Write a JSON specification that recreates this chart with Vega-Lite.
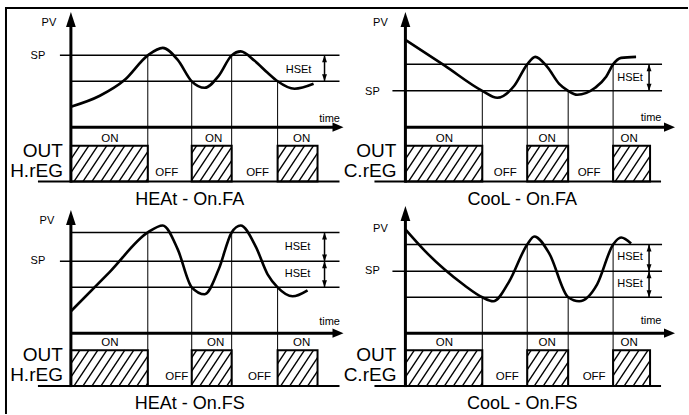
{
"$schema": "https://vega.github.io/schema/vega-lite/v6.json",
"width": 689, "height": 415,
"autosize": {"type": "fit", "contains": "padding"},
"padding": 0,
"background": "white",
"config": {"view": {"stroke": null}},
"datasets": {
"frame": [{"x":6,"y":8,"x2":6,"y2":415},{"x":5,"y":8,"x2":689,"y2":8}],
"hatch": [
{"x":47,"x2":71,"y":182,"y2":146},{"x":56,"x2":80,"y":182,"y2":146},{"x":65,"x2":89,"y":182,"y2":146},{"x":74,"x2":98,"y":182,"y2":146},{"x":83,"x2":107,"y":182,"y2":146},{"x":92,"x2":116,"y":182,"y2":146},{"x":101,"x2":125,"y":182,"y2":146},{"x":110,"x2":134,"y":182,"y2":146},{"x":119,"x2":143,"y":182,"y2":146},{"x":128,"x2":152,"y":182,"y2":146},{"x":137,"x2":161,"y":182,"y2":146},{"x":146,"x2":170,"y":182,"y2":146},{"x":155,"x2":179,"y":182,"y2":146},{"x":164,"x2":188,"y":182,"y2":146},{"x":173,"x2":197,"y":182,"y2":146},{"x":182,"x2":206,"y":182,"y2":146},{"x":191,"x2":215,"y":182,"y2":146},{"x":200,"x2":224,"y":182,"y2":146},{"x":209,"x2":233,"y":182,"y2":146},{"x":218,"x2":242,"y":182,"y2":146},{"x":227,"x2":251,"y":182,"y2":146},{"x":236,"x2":260,"y":182,"y2":146},{"x":245,"x2":269,"y":182,"y2":146},{"x":254,"x2":278,"y":182,"y2":146},{"x":263,"x2":287,"y":182,"y2":146},{"x":272,"x2":296,"y":182,"y2":146},{"x":281,"x2":305,"y":182,"y2":146},{"x":290,"x2":314,"y":182,"y2":146},{"x":299,"x2":323,"y":182,"y2":146},{"x":308,"x2":332,"y":182,"y2":146},{"x":317,"x2":341,"y":182,"y2":146},
{"x":47,"x2":71,"y":387,"y2":351},{"x":56,"x2":80,"y":387,"y2":351},{"x":65,"x2":89,"y":387,"y2":351},{"x":74,"x2":98,"y":387,"y2":351},{"x":83,"x2":107,"y":387,"y2":351},{"x":92,"x2":116,"y":387,"y2":351},{"x":101,"x2":125,"y":387,"y2":351},{"x":110,"x2":134,"y":387,"y2":351},{"x":119,"x2":143,"y":387,"y2":351},{"x":128,"x2":152,"y":387,"y2":351},{"x":137,"x2":161,"y":387,"y2":351},{"x":146,"x2":170,"y":387,"y2":351},{"x":155,"x2":179,"y":387,"y2":351},{"x":164,"x2":188,"y":387,"y2":351},{"x":173,"x2":197,"y":387,"y2":351},{"x":182,"x2":206,"y":387,"y2":351},{"x":191,"x2":215,"y":387,"y2":351},{"x":200,"x2":224,"y":387,"y2":351},{"x":209,"x2":233,"y":387,"y2":351},{"x":218,"x2":242,"y":387,"y2":351},{"x":227,"x2":251,"y":387,"y2":351},{"x":236,"x2":260,"y":387,"y2":351},{"x":245,"x2":269,"y":387,"y2":351},{"x":254,"x2":278,"y":387,"y2":351},{"x":263,"x2":287,"y":387,"y2":351},{"x":272,"x2":296,"y":387,"y2":351},{"x":281,"x2":305,"y":387,"y2":351},{"x":290,"x2":314,"y":387,"y2":351},{"x":299,"x2":323,"y":387,"y2":351},{"x":308,"x2":332,"y":387,"y2":351},{"x":317,"x2":341,"y":387,"y2":351},
{"x":382,"x2":406,"y":182,"y2":146},{"x":391,"x2":415,"y":182,"y2":146},{"x":400,"x2":424,"y":182,"y2":146},{"x":409,"x2":433,"y":182,"y2":146},{"x":418,"x2":442,"y":182,"y2":146},{"x":427,"x2":451,"y":182,"y2":146},{"x":436,"x2":460,"y":182,"y2":146},{"x":445,"x2":469,"y":182,"y2":146},{"x":454,"x2":478,"y":182,"y2":146},{"x":463,"x2":487,"y":182,"y2":146},{"x":472,"x2":496,"y":182,"y2":146},{"x":481,"x2":505,"y":182,"y2":146},{"x":490,"x2":514,"y":182,"y2":146},{"x":499,"x2":523,"y":182,"y2":146},{"x":508,"x2":532,"y":182,"y2":146},{"x":517,"x2":541,"y":182,"y2":146},{"x":526,"x2":550,"y":182,"y2":146},{"x":535,"x2":559,"y":182,"y2":146},{"x":544,"x2":568,"y":182,"y2":146},{"x":553,"x2":577,"y":182,"y2":146},{"x":562,"x2":586,"y":182,"y2":146},{"x":571,"x2":595,"y":182,"y2":146},{"x":580,"x2":604,"y":182,"y2":146},{"x":589,"x2":613,"y":182,"y2":146},{"x":598,"x2":622,"y":182,"y2":146},{"x":607,"x2":631,"y":182,"y2":146},{"x":616,"x2":640,"y":182,"y2":146},{"x":625,"x2":649,"y":182,"y2":146},{"x":634,"x2":658,"y":182,"y2":146},{"x":643,"x2":667,"y":182,"y2":146},{"x":652,"x2":676,"y":182,"y2":146},
{"x":382,"x2":406,"y":387,"y2":351},{"x":391,"x2":415,"y":387,"y2":351},{"x":400,"x2":424,"y":387,"y2":351},{"x":409,"x2":433,"y":387,"y2":351},{"x":418,"x2":442,"y":387,"y2":351},{"x":427,"x2":451,"y":387,"y2":351},{"x":436,"x2":460,"y":387,"y2":351},{"x":445,"x2":469,"y":387,"y2":351},{"x":454,"x2":478,"y":387,"y2":351},{"x":463,"x2":487,"y":387,"y2":351},{"x":472,"x2":496,"y":387,"y2":351},{"x":481,"x2":505,"y":387,"y2":351},{"x":490,"x2":514,"y":387,"y2":351},{"x":499,"x2":523,"y":387,"y2":351},{"x":508,"x2":532,"y":387,"y2":351},{"x":517,"x2":541,"y":387,"y2":351},{"x":526,"x2":550,"y":387,"y2":351},{"x":535,"x2":559,"y":387,"y2":351},{"x":544,"x2":568,"y":387,"y2":351},{"x":553,"x2":577,"y":387,"y2":351},{"x":562,"x2":586,"y":387,"y2":351},{"x":571,"x2":595,"y":387,"y2":351},{"x":580,"x2":604,"y":387,"y2":351},{"x":589,"x2":613,"y":387,"y2":351},{"x":598,"x2":622,"y":387,"y2":351},{"x":607,"x2":631,"y":387,"y2":351},{"x":616,"x2":640,"y":387,"y2":351},{"x":625,"x2":649,"y":387,"y2":351},{"x":634,"x2":658,"y":387,"y2":351},{"x":643,"x2":667,"y":387,"y2":351},{"x":652,"x2":676,"y":387,"y2":351}
],
"cover": [
{"x":36,"x2":71,"y":144,"y2":184},{"x":148,"x2":192,"y":144,"y2":184},{"x":232,"x2":278,"y":144,"y2":184},{"x":318,"x2":346,"y":144,"y2":184},{"x":368,"x2":406,"y":144,"y2":184},{"x":483,"x2":528,"y":144,"y2":184},{"x":569,"x2":614,"y":144,"y2":184},{"x":651,"x2":689,"y":144,"y2":184},
{"x":36,"x2":71,"y":349,"y2":389},{"x":148,"x2":192,"y":349,"y2":389},{"x":232,"x2":278,"y":349,"y2":389},{"x":318,"x2":346,"y":349,"y2":389},{"x":368,"x2":406,"y":349,"y2":389},{"x":483,"x2":528,"y":349,"y2":389},{"x":569,"x2":614,"y":349,"y2":389},{"x":651,"x2":689,"y":349,"y2":389}
],
"levels": [
{"x":60,"y":55.5,"x2":340,"y2":55.5},{"x":71,"y":81.5,"x2":340,"y2":81.5},
{"x":406,"y":64.5,"x2":663,"y2":64.5},{"x":393,"y":91,"x2":663,"y2":91},
{"x":71,"y":233,"x2":340,"y2":233},{"x":60,"y":262,"x2":340,"y2":262},{"x":71,"y":288,"x2":340,"y2":288},
{"x":406,"y":245,"x2":663,"y2":245},{"x":393,"y":272,"x2":663,"y2":272},{"x":406,"y":298,"x2":663,"y2":298},
{"x":325,"y":55.5,"x2":325,"y2":81.5},{"x":650,"y":64.5,"x2":650,"y2":91},{"x":325,"y":233,"x2":325,"y2":288},{"x":650,"y":245,"x2":650,"y2":298}
],
"switches": [
{"x":148,"y":55.5,"x2":148,"y2":182},{"x":192,"y":81.5,"x2":192,"y2":182},{"x":232,"y":55.5,"x2":232,"y2":182},{"x":278,"y":81.5,"x2":278,"y2":182},
{"x":483,"y":91,"x2":483,"y2":182},{"x":528,"y":64.5,"x2":528,"y2":182},{"x":569,"y":91,"x2":569,"y2":182},{"x":614,"y":64.5,"x2":614,"y2":182},
{"x":148,"y":233,"x2":148,"y2":387},{"x":192,"y":288,"x2":192,"y2":387},{"x":232,"y":233,"x2":232,"y2":387},{"x":278,"y":288,"x2":278,"y2":387},
{"x":483,"y":298,"x2":483,"y2":387},{"x":528,"y":245,"x2":528,"y2":387},{"x":569,"y":298,"x2":569,"y2":387},{"x":614,"y":245,"x2":614,"y2":387}
],
"boxes": [
{"x":71,"x2":148,"y":146,"y2":182},{"x":192,"x2":232,"y":146,"y2":182},{"x":278,"x2":318,"y":146,"y2":182},
{"x":406,"x2":483,"y":146,"y2":182},{"x":528,"x2":569,"y":146,"y2":182},{"x":614,"x2":651,"y":146,"y2":182},
{"x":71,"x2":148,"y":351,"y2":387},{"x":192,"x2":232,"y":351,"y2":387},{"x":278,"x2":318,"y":351,"y2":387},
{"x":406,"x2":483,"y":351,"y2":387},{"x":528,"x2":569,"y":351,"y2":387},{"x":614,"x2":651,"y":351,"y2":387}
],
"baselines": [
{"x":38,"y":182,"x2":340,"y2":182},{"x":375,"y":182,"x2":662,"y2":182},{"x":38,"y":387,"x2":340,"y2":387},{"x":375,"y":387,"x2":662,"y2":387}
],
"axes": [
{"x":71,"y":26,"x2":71,"y2":183},{"x":406,"y":26,"x2":406,"y2":183},{"x":71,"y":225,"x2":71,"y2":388},{"x":406,"y":221,"x2":406,"y2":388},
{"x":71,"y":127.5,"x2":334,"y2":127.5},{"x":406,"y":127.5,"x2":665,"y2":127.5},{"x":71,"y":334,"x2":334,"y2":334},{"x":406,"y":334,"x2":665,"y2":334}
],
"curves": [
{"p":"1","i":1,"x":71,"y":107},{"p":"1","i":2,"x":100,"y":96},{"p":"1","i":3,"x":125,"y":80},{"p":"1","i":4,"x":148,"y":55.5},{"p":"1","i":5,"x":163,"y":48},{"p":"1","i":6,"x":178,"y":60},{"p":"1","i":7,"x":192,"y":81.5},{"p":"1","i":8,"x":205,"y":88},{"p":"1","i":9,"x":219,"y":76},{"p":"1","i":10,"x":232,"y":55.5},{"p":"1","i":11,"x":241,"y":51.5},{"p":"1","i":12,"x":255,"y":61},{"p":"1","i":13,"x":268,"y":73},{"p":"1","i":14,"x":278,"y":81.5},{"p":"1","i":15,"x":295,"y":89},{"p":"1","i":16,"x":314,"y":84},
{"p":"2","i":1,"x":406,"y":40},{"p":"2","i":2,"x":445,"y":65.5},{"p":"2","i":3,"x":483,"y":91},{"p":"2","i":4,"x":498,"y":98},{"p":"2","i":5,"x":515,"y":86},{"p":"2","i":6,"x":528,"y":64.5},{"p":"2","i":7,"x":536,"y":57},{"p":"2","i":8,"x":548,"y":67},{"p":"2","i":9,"x":560,"y":84},{"p":"2","i":10,"x":569,"y":91},{"p":"2","i":11,"x":578,"y":95},{"p":"2","i":12,"x":596,"y":88},{"p":"2","i":13,"x":607,"y":77},{"p":"2","i":14,"x":614,"y":64.5},{"p":"2","i":15,"x":622,"y":58},{"p":"2","i":16,"x":637,"y":57},
{"p":"3","i":1,"x":71,"y":312},{"p":"3","i":2,"x":110,"y":272.5},{"p":"3","i":3,"x":148,"y":233},{"p":"3","i":4,"x":163,"y":226},{"p":"3","i":5,"x":178,"y":250},{"p":"3","i":6,"x":192,"y":288},{"p":"3","i":7,"x":205,"y":295},{"p":"3","i":8,"x":219,"y":270},{"p":"3","i":9,"x":232,"y":233},{"p":"3","i":10,"x":241,"y":226},{"p":"3","i":11,"x":256,"y":247},{"p":"3","i":12,"x":268,"y":275},{"p":"3","i":13,"x":278,"y":288},{"p":"3","i":14,"x":293,"y":297},{"p":"3","i":15,"x":308,"y":291},
{"p":"4","i":1,"x":406,"y":230},{"p":"4","i":2,"x":425,"y":251},{"p":"4","i":3,"x":445,"y":270},{"p":"4","i":4,"x":465,"y":286},{"p":"4","i":5,"x":483,"y":298},{"p":"4","i":6,"x":494,"y":302},{"p":"4","i":7,"x":510,"y":282},{"p":"4","i":8,"x":528,"y":245},{"p":"4","i":9,"x":535,"y":237},{"p":"4","i":10,"x":550,"y":254},{"p":"4","i":11,"x":569,"y":298},{"p":"4","i":12,"x":580,"y":302},{"p":"4","i":13,"x":598,"y":285},{"p":"4","i":14,"x":614,"y":245},{"p":"4","i":15,"x":622,"y":238},{"p":"4","i":16,"x":632,"y":244}
],
"pvArrows": [{"x":71,"y":19.5},{"x":406,"y":19.5},{"x":71,"y":218},{"x":406,"y":214}],
"timeArrows": [{"x":338.5,"y":127.5},{"x":670.5,"y":127.5},{"x":338.5,"y":334},{"x":670.5,"y":334}],
"hUp": [{"x":325,"y":59},{"x":650,"y":68},{"x":325,"y":236.5},{"x":325,"y":265.5},{"x":650,"y":248.5},{"x":650,"y":275.5}],
"hDown": [{"x":325,"y":78},{"x":650,"y":87.5},{"x":325,"y":258.5},{"x":325,"y":284.5},{"x":650,"y":268.5},{"x":650,"y":294.5}],
"labels": [
{"t":"PV","x":49,"y":23},{"t":"SP","x":38,"y":56},{"t":"time","x":330,"y":119},{"t":"HSEt","x":299,"y":70},
{"t":"PV","x":381,"y":23},{"t":"SP","x":373,"y":92},{"t":"time","x":652,"y":118},{"t":"HSEt","x":631,"y":78},
{"t":"PV","x":47,"y":222},{"t":"SP","x":38,"y":262},{"t":"time","x":330,"y":323},{"t":"HSEt","x":298,"y":248},{"t":"HSEt","x":298,"y":275},
{"t":"PV","x":381,"y":230},{"t":"SP","x":373,"y":272},{"t":"time","x":652,"y":322},{"t":"HSEt","x":631,"y":258},{"t":"HSEt","x":631,"y":285}
],
"onoff": [
{"t":"ON","x":110,"y":139},{"t":"ON","x":214,"y":139},{"t":"ON","x":302,"y":139},{"t":"OFF","x":167,"y":173},{"t":"OFF","x":258,"y":173},
{"t":"ON","x":445,"y":139},{"t":"ON","x":548,"y":139},{"t":"ON","x":630,"y":139},{"t":"OFF","x":506,"y":173},{"t":"OFF","x":590,"y":173},
{"t":"ON","x":110,"y":344},{"t":"ON","x":216,"y":344},{"t":"ON","x":302,"y":344},{"t":"OFF","x":177,"y":378},{"t":"OFF","x":260,"y":378},
{"t":"ON","x":445,"y":344},{"t":"ON","x":548,"y":344},{"t":"ON","x":630,"y":344},{"t":"OFF","x":508,"y":378},{"t":"OFF","x":595,"y":378}
],
"outs": [
{"t":"OUT","x":63,"y":157},{"t":"H.rEG","x":63,"y":177},
{"t":"OUT","x":397,"y":157},{"t":"C.rEG","x":397,"y":177},
{"t":"OUT","x":63,"y":362},{"t":"H.rEG","x":63,"y":382},
{"t":"OUT","x":397,"y":362},{"t":"C.rEG","x":397,"y":382}
],
"titles": [
{"t":"HEAt - On.FA","x":190,"y":205},{"t":"CooL - On.FA","x":523,"y":205},
{"t":"HEAt - On.FS","x":190,"y":410},{"t":"CooL - On.FS","x":523,"y":410}
]
},
"encoding": {
"x": {"field":"x","type":"quantitative","scale":{"domain":[0,689],"nice":false,"zero":false},"axis":null},
"y": {"field":"y","type":"quantitative","scale":{"domain":[0,415],"nice":false,"zero":false,"reverse":true},"axis":null}
},
"layer": [
{"data":{"name":"frame"},"mark":{"type":"rule","color":"black","strokeWidth":2},"encoding":{"x2":{"field":"x2"},"y2":{"field":"y2"}}},
{"data":{"name":"hatch"},"mark":{"type":"rule","color":"black","strokeWidth":1.4},"encoding":{"x2":{"field":"x2"},"y2":{"field":"y2"}}},
{"data":{"name":"cover"},"mark":{"type":"rect","color":"white","opacity":1},"encoding":{"x2":{"field":"x2"},"y2":{"field":"y2"}}},
{"data":{"name":"levels"},"mark":{"type":"rule","color":"black","strokeWidth":1.5},"encoding":{"x2":{"field":"x2"},"y2":{"field":"y2"}}},
{"data":{"name":"switches"},"mark":{"type":"rule","color":"black","strokeWidth":1},"encoding":{"x2":{"field":"x2"},"y2":{"field":"y2"}}},
{"data":{"name":"boxes"},"mark":{"type":"rect","filled":false,"stroke":"black","strokeWidth":2},"encoding":{"x2":{"field":"x2"},"y2":{"field":"y2"}}},
{"data":{"name":"baselines"},"mark":{"type":"rule","color":"black","strokeWidth":2},"encoding":{"x2":{"field":"x2"},"y2":{"field":"y2"}}},
{"data":{"name":"curves"},"mark":{"type":"line","color":"black","strokeWidth":2.6,"interpolate":"monotone"},"encoding":{"detail":{"field":"p"},"order":{"field":"i","type":"quantitative"}}},
{"data":{"name":"axes"},"mark":{"type":"rule","color":"black","strokeWidth":3},"encoding":{"x2":{"field":"x2"},"y2":{"field":"y2"}}},
{"data":{"name":"pvArrows"},"mark":{"type":"point","shape":"M0,-1L-0.65,1L0.65,1Z","filled":true,"color":"black","opacity":1,"size":225,"strokeWidth":0},"encoding":{}},
{"data":{"name":"timeArrows"},"mark":{"type":"point","shape":"M1,0L-1,-0.85L-1,0.85Z","filled":true,"color":"black","opacity":1,"size":121,"strokeWidth":0},"encoding":{}},
{"data":{"name":"hUp"},"mark":{"type":"point","shape":"M0,-1L-0.7,1L0.7,1Z","filled":true,"color":"black","opacity":1,"size":49,"strokeWidth":0},"encoding":{}},
{"data":{"name":"hDown"},"mark":{"type":"point","shape":"M0,1L-0.7,-1L0.7,-1Z","filled":true,"color":"black","opacity":1,"size":49,"strokeWidth":0},"encoding":{}},
{"data":{"name":"labels"},"mark":{"type":"text","font":"Liberation Sans","fontSize":11,"color":"black","align":"center","baseline":"middle"},"encoding":{"text":{"field":"t"}}},
{"data":{"name":"onoff"},"mark":{"type":"text","font":"Liberation Sans","fontSize":11.5,"color":"black","align":"center","baseline":"middle"},"encoding":{"text":{"field":"t"}}},
{"data":{"name":"outs"},"mark":{"type":"text","font":"Liberation Sans","fontSize":19,"color":"black","align":"right","baseline":"alphabetic"},"encoding":{"text":{"field":"t"}}},
{"data":{"name":"titles"},"mark":{"type":"text","font":"Liberation Sans","fontSize":18,"color":"black","align":"center","baseline":"alphabetic"},"encoding":{"text":{"field":"t"}}}
]
}
